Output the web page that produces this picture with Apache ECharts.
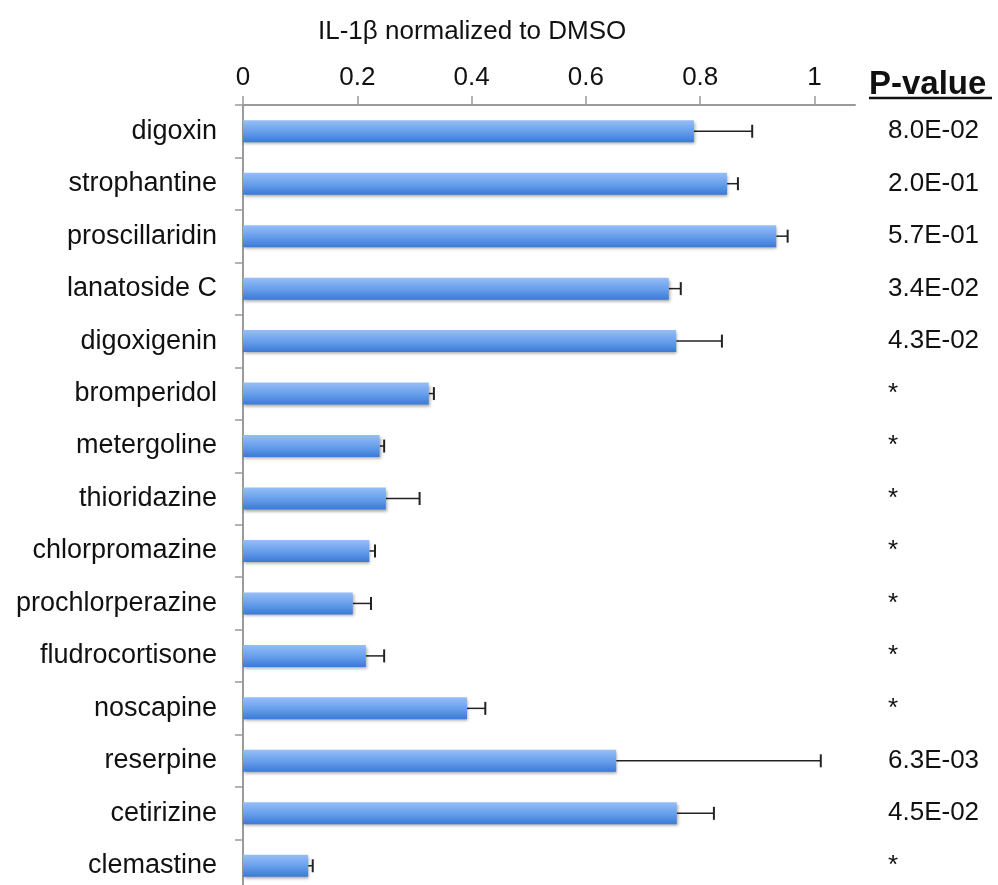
<!DOCTYPE html>
<html><head><meta charset="utf-8">
<script src="https://cdn.jsdelivr.net/npm/echarts@6/dist/echarts.min.js"></script>
<style>html,body{margin:0;padding:0;background:#fff}#c{width:998px;height:885px}</style>
</head><body><div id="c"></div>
<script>
// ---- data ----
const compounds = ['digoxin','strophantine','proscillaridin','lanatoside C','digoxigenin','bromperidol','metergoline','thioridazine','chlorpromazine','prochlorperazine','fludrocortisone','noscapine','reserpine','cetirizine','clemastine'];
const values = [0.789, 0.847, 0.933, 0.745, 0.758, 0.325, 0.239, 0.250, 0.221, 0.192, 0.215, 0.392, 0.653, 0.759, 0.114];
const errors = [0.102, 0.019, 0.020, 0.021, 0.080, 0.009, 0.008, 0.059, 0.010, 0.032, 0.032, 0.032, 0.358, 0.065, 0.008];
const pValues = ['8.0E-02','2.0E-01','5.7E-01','3.4E-02','4.3E-02','*','*','*','*','*','*','*','6.3E-03','4.5E-02','*'];
const xTicks = [0, 0.2, 0.4, 0.6, 0.8, 1];
const xTickLabels = ['0', '0.2', '0.4', '0.6', '0.8', '1'];
const axisTitle = 'IL-1β normalized to DMSO';
const pHeader = 'P-value';

const FONT = '"Liberation Sans", Arial, Helvetica, sans-serif';
const chart = echarts.init(document.getElementById('c'), null, {renderer: 'canvas'});

const errData = values.map((v, i) => [v, i, errors[i]]);

const option = {
  animation: false,
  backgroundColor: '#ffffff',
  title: {
    text: axisTitle, left: 313, top: 14,
    textStyle: {fontFamily: FONT, fontSize: 26, fontWeight: 'normal', color: '#111'}
  },
  grid: {left: 243, top: 105, width: 612, height: 787, containLabel: false, outerBoundsMode: 'none'},
  xAxis: {
    type: 'value', position: 'top', min: 0, max: 612 / 571.5,
    interval: 0.2,
    splitLine: {show: false},
    axisLine: {show: true, lineStyle: {color: '#9a9a9a', width: 2}},
    axisTick: {show: true, inside: false, length: 9, lineStyle: {color: '#9a9a9a', width: 1.5}, customValues: xTicks},
    axisLabel: {
      show: true, customValues: xTicks, margin: 14,
      formatter: (v) => { const k = xTicks.findIndex(t => Math.abs(t - v) < 1e-6); return k >= 0 ? xTickLabels[k] : ''; },
      fontFamily: FONT, fontSize: 26, color: '#111'
    }
  },
  yAxis: [{
    type: 'category', data: compounds, inverse: true,
    axisLine: {show: true, lineStyle: {color: '#9a9a9a', width: 2}},
    axisTick: {show: true, inside: false, length: 8, lineStyle: {color: '#9a9a9a', width: 1.5}},
    axisLabel: {margin: 26, fontFamily: FONT, fontSize: 27, color: '#111'},
    splitLine: {show: false}
  }, {
    type: 'category', data: compounds, inverse: true, position: 'right',
    axisLine: {show: false}, axisTick: {show: false}, splitLine: {show: false},
    axisLabel: {
      margin: 33, align: 'left', padding: [7, 0, 0, 0],
      formatter: (v, i) => pValues[i],
      fontFamily: FONT, fontSize: 26, color: '#111'
    }
  }],
  series: [{
    type: 'bar', data: values, barWidth: 22, yAxisIndex: 0,
    itemStyle: {
      color: new echarts.graphic.LinearGradient(0, 0, 0, 1, [
        {offset: 0, color: '#95bef7'},
        {offset: 0.5, color: '#69a0ec'},
        {offset: 1, color: '#3a7ad6'}
      ]),
      shadowColor: 'rgba(0,0,0,0.35)', shadowBlur: 3, shadowOffsetY: 2, shadowOffsetX: 1
    }
  }, {
    type: 'custom', yAxisIndex: 0, data: errData,
    encode: {x: [0, 2], y: 1},
    renderItem: (params, api) => {
      const v = api.value(0), idx = api.value(1), e = api.value(2);
      const p0 = api.coord([v, idx]);
      const p1 = api.coord([v + e, idx]);
      const h = 6.5;
      return {type: 'group', children: [
        {type: 'line', shape: {x1: p0[0], y1: p0[1], x2: p1[0], y2: p1[1]}, style: {stroke: '#222', lineWidth: 1.5}},
        {type: 'line', shape: {x1: p1[0], y1: p1[1] - h, x2: p1[0], y2: p1[1] + h}, style: {stroke: '#222', lineWidth: 2}}
      ]};
    }
  }],
  graphic: [
    {type: 'text', x: 869, y: 85, style: {text: pHeader, font: 'bold 33px ' + FONT, fill: '#111', verticalAlign: 'middle', align: 'left'}},
    {type: 'line', shape: {x1: 869, y1: 98, x2: 992, y2: 98}, style: {stroke: '#111', lineWidth: 2.5}}
  ]
};
chart.setOption(option);
</script>
</body></html>
